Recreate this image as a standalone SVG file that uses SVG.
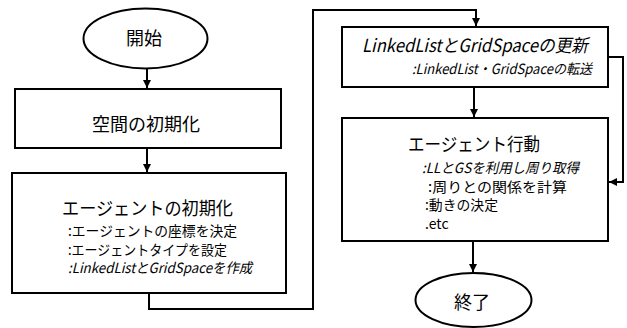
<svg xmlns="http://www.w3.org/2000/svg" width="627" height="328" viewBox="0 0 627 328">
<defs>
<marker id="ah" viewBox="0 0 10 10" refX="10" refY="5" markerWidth="4" markerHeight="4" orient="auto" markerUnits="strokeWidth"><path d="M0,0 L10,5 L0,10 Z" fill="#000"/></marker>
<style>
.sh{fill:#fff;stroke:#000;stroke-width:2}
.ln{fill:none;stroke:#000;stroke-width:2}
text{font-family:"Noto Sans CJK JP","Noto Sans",sans-serif;fill:#000}
.t{font-size:18px}
.s{font-size:14px}
.i{font-style:italic}
</style>
</defs>
<rect width="627" height="328" fill="#fff"/>
<g id="connectors">
<line class="ln" x1="147" y1="69" x2="147" y2="88" marker-end="url(#ah)"/>
<line class="ln" x1="147" y1="148" x2="147" y2="172" marker-end="url(#ah)"/>
<polyline class="ln" points="149,293 149,309 313,309 313,10 476,10 476,26" marker-end="url(#ah)"/>
<line class="ln" x1="474" y1="87" x2="474" y2="117" marker-end="url(#ah)"/>
<polyline class="ln" points="608,57 623,57 623,182 609,182" marker-end="url(#ah)"/>
<line class="ln" x1="473" y1="241" x2="473" y2="272" marker-end="url(#ah)"/>
</g>
<g id="start">
<ellipse class="sh" cx="145.5" cy="38.5" rx="62" ry="30"/>
<text class="t" x="144" y="45" text-anchor="middle">開始</text>
</g>
<g id="space-init">
<rect class="sh" x="15" y="89" width="266" height="59"/>
<text class="t" x="146" y="131" text-anchor="middle" font-size="19">空間の初期化</text>
</g>
<g id="agent-init">
<rect class="sh" x="12" y="173" width="274" height="120"/>
<text class="t" x="62" y="215" font-size="17" textLength="171" lengthAdjust="spacingAndGlyphs">エージェントの初期化</text>
<text class="s" x="68" y="236" font-size="13" textLength="169" lengthAdjust="spacingAndGlyphs">:エージェントの座標を決定</text>
<text class="s" x="68" y="255" font-size="13" textLength="159" lengthAdjust="spacingAndGlyphs">:エージェントタイプを設定</text>
<text class="s i" x="68" y="273" font-size="13" textLength="184" lengthAdjust="spacingAndGlyphs">:LinkedListとGridSpaceを作成</text>
</g>
<g id="update">
<rect class="sh" x="342" y="27" width="266" height="60"/>
<text class="t i" x="362" y="52" textLength="226" lengthAdjust="spacingAndGlyphs">LinkedListとGridSpaceの更新</text>
<text class="s i" x="412" y="74" font-size="13" textLength="180" lengthAdjust="spacingAndGlyphs">:LinkedList・GridSpaceの転送</text>
</g>
<g id="agent-action">
<rect class="sh" x="342" y="118" width="266" height="123"/>
<text class="t" x="408" y="151" textLength="132" lengthAdjust="spacingAndGlyphs">エージェント行動</text>
<text class="s i" x="422" y="173" textLength="157" lengthAdjust="spacingAndGlyphs">:LLとGSを利用し周り取得</text>
<text class="s" x="428" y="192" textLength="139" lengthAdjust="spacingAndGlyphs">:周りとの関係を計算</text>
<text class="s" x="425" y="210" textLength="73" lengthAdjust="spacingAndGlyphs">:動きの決定</text>
<text class="s" x="425" y="229">.etc</text>
</g>
<g id="end">
<ellipse class="sh" cx="473.5" cy="300" rx="58" ry="27"/>
<text class="t" x="472" y="309" text-anchor="middle" font-size="19">終了</text>
</g>
</svg>
